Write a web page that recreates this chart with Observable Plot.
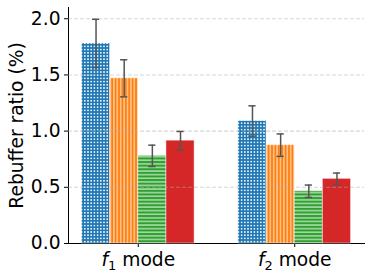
<!DOCTYPE html>
<html>
<head>
<meta charset="utf-8">
<script src="https://cdn.jsdelivr.net/npm/d3@7"></script>
<script src="https://cdn.jsdelivr.net/npm/@observablehq/plot@0.6"></script>
<style>
  html, body { margin: 0; padding: 0; background: #fff; }
</style>
</head>
<body>
<div id="chart"></div>
<script>
// ---- data ----
const groups = ["f1 mode", "f2 mode"];
const series = ["dots", "vlines", "hlines", "solid"];
const seriesColors = ["#1f77b4", "#ff7f0e", "#2ca02c", "#d62728"];
const valuesF1 = [1.78, 1.47, 0.78, 0.915];
const valuesF2 = [1.09, 0.875, 0.465, 0.575];
const errF1 = [0.215, 0.165, 0.095, 0.082];
const errF2 = [0.135, 0.10, 0.055, 0.052];
const yTicks = [0, 0.5, 1.0, 1.5, 2.0];
const yLabel = "Rebuffer ratio (%)";

const barWidth = 0.18;
const values = [valuesF1, valuesF2];
const errs = [errF1, errF2];
const rows = [];
groups.forEach((g, gi) => {
  series.forEach((s, si) => {
    const c = gi + (si - 1.5) * barWidth;
    rows.push({
      group: g, series: s, center: c,
      x1: c - barWidth / 2, x2: c + barWidth / 2,
      value: values[gi][si],
      lo: values[gi][si] - errs[gi][si],
      hi: values[gi][si] + errs[gi][si]
    });
  });
});
const capHalf = 0.023;

const plot = Plot.plot({
  width: 372,
  height: 277,
  marginLeft: 68,
  marginRight: 8,
  marginTop: 7,
  marginBottom: 34,
  style: { fontFamily: "DejaVu Sans", fontSize: "18.67px", background: "#fff", color: "#000" },
  x: {
    domain: [-0.446, 1.446],
    ticks: [0, 1],
    tickFormat: i => groups[i],
    tickSize: 4,
    tickPadding: 5,
    line: true,
    label: null
  },
  y: {
    domain: [0, 2.1],
    ticks: yTicks,
    tickFormat: d3.format(".1f"),
    tickSize: 4,
    tickPadding: 4,
    line: true,
    label: null
  },
  color: {
    type: "ordinal",
    domain: series,
    range: series.map(s => `url(#pat-${s})`)
  },
  marks: [
    Plot.rect(rows, {
      x1: "x1", x2: "x2", y1: 0, y2: "value",
      fill: "series",
      stroke: "#fff", strokeOpacity: 0.45, strokeWidth: 1
    }),
    Plot.ruleY([0.5, 1.0, 1.5, 2.0], {
      stroke: "#b0b0b0", strokeOpacity: 0.5, strokeWidth: 1.1, strokeDasharray: "4,2"
    }),
    Plot.ruleX(rows, { x: "center", y1: "lo", y2: "hi", stroke: "#555", strokeWidth: 1.5 }),
    Plot.ruleY(rows, { y: "lo", x1: d => d.center - capHalf, x2: d => d.center + capHalf, stroke: "#555", strokeWidth: 1.5 }),
    Plot.ruleY(rows, { y: "hi", x1: d => d.center - capHalf, x2: d => d.center + capHalf, stroke: "#555", strokeWidth: 1.5 }),
    Plot.text([yLabel], {
      text: d => d, frameAnchor: "left", textAnchor: "middle", lineAnchor: "middle",
      rotate: -90, dx: -51,
      fontSize: 18.67, fill: "#000"
    })
  ]
});

// hatch patterns
const svgEl = plot.tagName.toLowerCase() === "svg" ? plot : plot.querySelector("svg");
const svg = d3.select(svgEl);
const defs = svg.insert("defs", ":first-child");
// dots
{
  const p = defs.append("pattern").attr("id", "pat-dots").attr("patternUnits", "userSpaceOnUse")
    .attr("width", 3.2).attr("height", 3.2);
  p.append("rect").attr("width", 3.2).attr("height", 3.2).attr("fill", seriesColors[0]);
  p.append("rect").attr("x", 0.8).attr("y", 0.8).attr("width", 1.6).attr("height", 1.6).attr("fill", "#fff").attr("fill-opacity", 0.9);
}
// vertical lines
{
  const p = defs.append("pattern").attr("id", "pat-vlines").attr("patternUnits", "userSpaceOnUse")
    .attr("width", 3.4).attr("height", 4);
  p.append("rect").attr("width", 3.4).attr("height", 4).attr("fill", seriesColors[1]);
  p.append("rect").attr("x", 1.2).attr("y", 0).attr("width", 1.0).attr("height", 4).attr("fill", "#fff").attr("fill-opacity", 0.85);
}
// horizontal lines
{
  const p = defs.append("pattern").attr("id", "pat-hlines").attr("patternUnits", "userSpaceOnUse")
    .attr("width", 4).attr("height", 3.6);
  p.append("rect").attr("width", 4).attr("height", 3.6).attr("fill", seriesColors[2]);
  p.append("rect").attr("x", 0).attr("y", 1.3).attr("width", 4).attr("height", 1.1).attr("fill", "#fff").attr("fill-opacity", 0.85);
}
// solid
{
  const p = defs.append("pattern").attr("id", "pat-solid").attr("patternUnits", "userSpaceOnUse")
    .attr("width", 4).attr("height", 4);
  p.append("rect").attr("width", 4).attr("height", 4).attr("fill", seriesColors[3]);
}

// italic f with subscript in group labels
svg.selectAll("text").each(function () {
  const t = this.textContent;
  if (groups.includes(t)) {
    const el = d3.select(this);
    el.text(null);
    el.append("tspan").attr("font-style", "italic").text(t[0]);
    el.append("tspan").attr("font-size", "13px").attr("dy", "4px").text(t[1]);
    el.append("tspan").attr("dy", "-4px").text(t.slice(2));
  }
});

document.getElementById("chart").appendChild(plot);
</script>
</body>
</html>
